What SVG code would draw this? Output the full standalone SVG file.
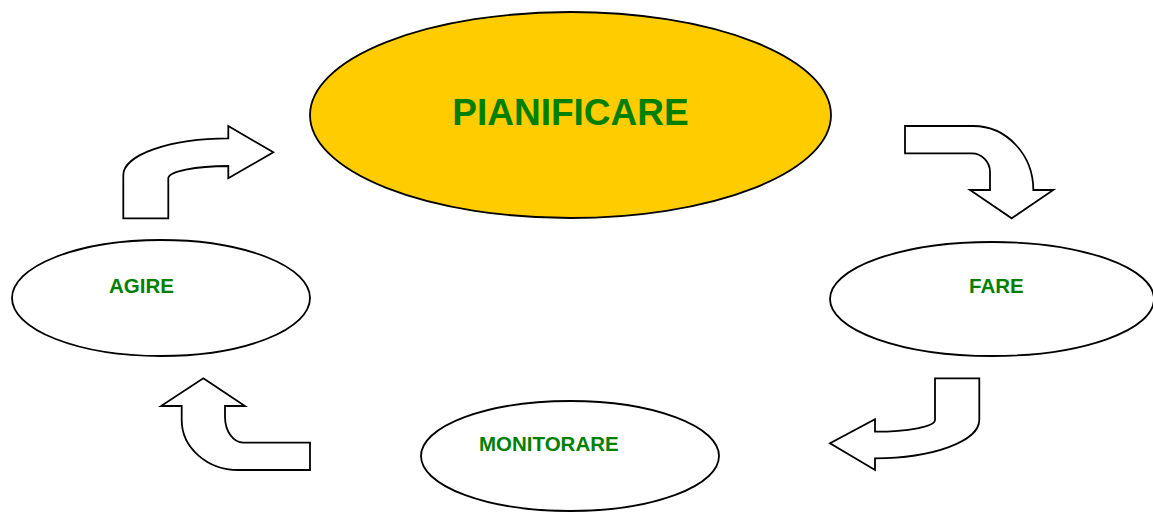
<svg xmlns="http://www.w3.org/2000/svg" width="1153" height="512" viewBox="0 0 1153 512">
  <style>
    .node { fill: #ffffff; stroke: #000000; stroke-width: 1.8; }
    .main { fill: #ffcc00; }
    .label { font-family: "Liberation Sans", Arial, sans-serif; font-weight: bold; fill: #008000; }
    .arrow { fill: #ffffff; stroke: #000000; stroke-width: 1.8; stroke-linejoin: miter; }
  </style>
  <rect width="1153" height="512" fill="#ffffff"/>

  <!-- curved block arrows of the cycle -->
  <g id="connectors">
    <path class="arrow" d="M123.3,218.3 L168.3,218.3 L168.3,178.3 A60,12.3 0 0 1 228.3,166 L228.3,178.3 L273.3,152.3 L228.3,126 L228.3,138.3 A105,36.7 0 0 0 123.3,175 Z"/>
    <path class="arrow" d="M905,126 L973.3,126 A60,64 0 0 1 1033.3,190 L1053.3,190 L1011.7,218.3 L970,190 L990,190 L990,172 A18.3,18.7 0 0 0 971.7,153.3 L905,153.3 Z"/>
    <path class="arrow" d="M935,378.3 L979.3,378.3 L979.3,420 A104.3,38.3 0 0 1 875,458.3 L875,470 L830,443.3 L875,419.3 L875,431.7 A60,11.7 0 0 0 935,420 Z"/>
    <path class="arrow" d="M203.3,378.3 L245,406 L225,406 L225,416.7 A18.3,26 0 0 0 243.3,442.7 L310,442.7 L310,470 L238.3,470 A56.7,50 0 0 1 181.7,420 L181.7,406 L161,406 Z"/>
  </g>

  <g id="pianificare">
    <ellipse class="node main" cx="570.5" cy="115" rx="260.5" ry="103"/>
    <text class="label" x="570.5" y="125" font-size="37" text-anchor="middle">PIANIFICARE</text>
  </g>

  <g id="fare">
    <ellipse class="node" cx="992" cy="299" rx="162" ry="57"/>
    <text class="label" x="969" y="293" font-size="20.5">FARE</text>
  </g>

  <g id="monitorare">
    <ellipse class="node" cx="570" cy="456" rx="149" ry="55"/>
    <text class="label" x="479" y="451" font-size="20.5">MONITORARE</text>
  </g>

  <g id="agire">
    <ellipse class="node" cx="161" cy="298" rx="149" ry="58"/>
    <text class="label" x="109" y="293" font-size="20.5">AGIRE</text>
  </g>
</svg>
